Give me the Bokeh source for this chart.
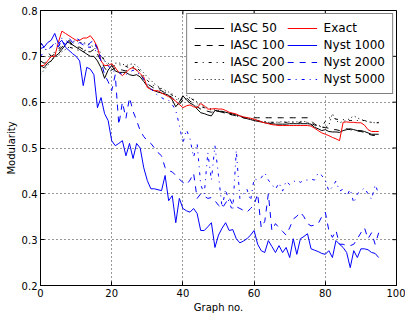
from bokeh.plotting import figure
from bokeh.models import Legend, LegendItem, Range1d, FixedTicker
from bokeh.embed import file_html
from bokeh.resources import INLINE

graph_no = list(range(96))

exact = [0.68,0.68,0.69,0.70,0.70,0.73,0.755,0.75,0.745,0.74,
         0.735,0.735,0.74,0.74,0.745,0.735,0.72,0.69,0.68,0.68,
         0.684,0.675,0.665,0.658,0.665,0.672,0.676,0.67,0.662,0.655,
         0.632,0.628,0.625,0.625,0.62,0.616,0.612,0.608,0.602,0.595,
         0.588,0.592,0.594,0.59,0.588,0.597,0.592,0.585,0.585,0.586,
         0.585,0.585,0.582,0.578,0.576,0.574,0.57,0.568,0.566,0.565,
         0.563,0.56,0.557,0.555,0.553,0.551,0.55,0.549,0.549,0.549,
         0.549,0.549,0.549,0.549,0.549,0.549,0.548,0.543,0.538,0.533,
         0.53,0.527,0.523,0.52,0.516,0.556,0.557,0.556,0.556,0.555,
         0.555,0.55,0.54,0.536,0.536,0.536]

iasc_50 = [0.68,0.675,0.685,0.69,0.70,0.705,0.715,0.725,0.735,0.725,
           0.72,0.715,0.71,0.705,0.70,0.70,0.69,0.675,0.652,0.67,
           0.68,0.668,0.665,0.665,0.665,0.66,0.658,0.66,0.655,0.645,
           0.635,0.628,0.625,0.622,0.62,0.618,0.615,0.605,0.59,0.6,
           0.614,0.605,0.598,0.594,0.585,0.577,0.575,0.572,0.57,0.582,
           0.58,0.58,0.578,0.576,0.575,0.572,0.57,0.566,0.564,0.562,
           0.56,0.558,0.557,0.555,0.554,0.553,0.552,0.552,0.552,0.552,
           0.553,0.553,0.553,0.553,0.553,0.553,0.552,0.545,0.542,0.538,
           0.54,0.536,0.535,0.535,0.534,0.538,0.54,0.542,0.54,0.538,
           0.538,0.536,0.533,0.53,0.53,0.53]

iasc_100 = [0.69,0.685,0.69,0.70,0.705,0.71,0.72,0.73,0.73,0.725,
            0.72,0.72,0.715,0.71,0.71,0.715,0.705,0.69,0.675,0.665,
            0.67,0.675,0.672,0.67,0.668,0.672,0.675,0.67,0.662,0.65,
            0.64,0.635,0.63,0.628,0.625,0.62,0.615,0.61,0.6,0.595,
            0.605,0.61,0.602,0.598,0.59,0.585,0.582,0.58,0.578,0.58,
            0.58,0.578,0.576,0.574,0.572,0.57,0.568,0.567,0.566,0.566,
            0.566,0.566,0.566,0.566,0.566,0.566,0.566,0.566,0.566,0.566,
            0.566,0.566,0.566,0.566,0.566,0.566,0.56,0.552,0.548,0.545,
            0.545,0.543,0.54,0.54,0.538,0.54,0.542,0.54,0.538,0.537,
            0.536,0.534,0.531,0.528,0.527,0.527]

iasc_200 = [0.73,0.72,0.71,0.70,0.71,0.715,0.725,0.72,0.72,0.718,
            0.715,0.712,0.71,0.715,0.72,0.725,0.72,0.705,0.69,0.68,
            0.678,0.68,0.682,0.68,0.678,0.675,0.678,0.675,0.668,0.658,
            0.648,0.64,0.635,0.632,0.628,0.622,0.62,0.615,0.608,0.6,
            0.61,0.615,0.61,0.604,0.597,0.59,0.588,0.585,0.583,0.582,
            0.58,0.578,0.576,0.574,0.572,0.57,0.568,0.566,0.565,0.564,
            0.562,0.56,0.559,0.558,0.557,0.556,0.556,0.556,0.556,0.556,
            0.556,0.556,0.556,0.556,0.557,0.556,0.554,0.55,0.548,0.546,
            0.558,0.566,0.565,0.563,0.562,0.562,0.561,0.56,0.56,0.56,
            0.56,0.56,0.558,0.556,0.555,0.555]

iasc_500 = [0.66,0.67,0.68,0.69,0.70,0.70,0.71,0.715,0.72,0.73,
            0.735,0.73,0.73,0.728,0.725,0.72,0.71,0.70,0.69,0.685,
            0.682,0.685,0.686,0.683,0.68,0.682,0.684,0.68,0.672,0.664,
            0.655,0.648,0.64,0.635,0.63,0.626,0.622,0.618,0.612,0.606,
            0.604,0.608,0.61,0.606,0.6,0.594,0.59,0.588,0.585,0.583,
            0.582,0.58,0.578,0.576,0.574,0.572,0.57,0.568,0.566,0.564,
            0.562,0.56,0.558,0.557,0.556,0.556,0.556,0.557,0.557,0.557,
            0.557,0.557,0.557,0.558,0.558,0.556,0.55,0.548,0.55,0.546,
            0.545,0.55,0.575,0.56,0.555,0.558,0.56,0.565,0.57,0.566,
            0.562,0.56,0.557,0.556,0.555,0.556]

nyst_1000 = [0.717,0.72,0.73,0.735,0.75,0.728,0.735,0.72,0.713,0.706,
             0.70,0.69,0.636,0.676,0.672,0.66,0.588,0.61,0.575,0.56,
             0.516,0.505,0.51,0.516,0.483,0.51,0.477,0.51,0.50,0.457,
             0.429,0.411,0.411,0.409,0.407,0.44,0.385,0.396,0.337,0.39,
             0.368,0.363,0.36,0.368,0.357,0.32,0.32,0.328,0.337,0.283,
             0.31,0.325,0.337,0.32,0.322,0.302,0.293,0.297,0.302,0.31,
             0.32,0.29,0.276,0.272,0.298,0.285,0.272,0.287,0.272,0.283,
             0.261,0.302,0.268,0.302,0.307,0.313,0.28,0.277,0.274,0.27,
             0.268,0.276,0.261,0.298,0.29,0.283,0.272,0.239,0.276,0.261,
             0.28,0.28,0.278,0.272,0.27,0.261]

nyst_2000 = [0.73,0.72,0.715,0.72,0.73,0.72,0.735,0.725,0.74,0.73,
             0.725,0.73,0.725,0.72,0.73,0.735,0.715,0.69,0.66,0.645,
             0.625,0.66,0.55,0.60,0.565,0.61,0.58,0.56,0.538,0.525,
             0.516,0.51,0.50,0.49,0.483,0.457,0.45,0.448,0.44,0.432,
             0.425,0.42,0.43,0.445,0.39,0.40,0.395,0.39,0.392,0.385,
             0.375,0.368,0.38,0.392,0.376,0.372,0.368,0.364,0.36,0.368,
             0.376,0.40,0.326,0.34,0.40,0.32,0.335,0.326,0.318,0.31,
             0.326,0.345,0.351,0.36,0.35,0.335,0.33,0.332,0.335,0.35,
             0.36,0.32,0.305,0.32,0.29,0.29,0.287,0.287,0.29,0.302,
             0.315,0.326,0.302,0.315,0.29,0.315]

nyst_5000 = [0.70,0.71,0.72,0.72,0.73,0.72,0.74,0.735,0.73,0.73,
             0.74,0.735,0.73,0.72,0.72,0.715,0.71,0.70,0.69,0.68,
             0.67,0.665,0.665,0.66,0.66,0.665,0.67,0.665,0.66,0.65,
             0.64,0.63,0.62,0.615,0.61,0.605,0.604,0.595,0.582,0.55,
             0.51,0.54,0.52,0.48,0.51,0.42,0.40,0.49,0.43,0.505,
             0.44,0.37,0.41,0.38,0.363,0.495,0.39,0.40,0.41,0.385,
             0.433,0.43,0.435,0.446,0.43,0.42,0.41,0.424,0.406,0.428,
             0.42,0.426,0.43,0.425,0.43,0.43,0.432,0.43,0.446,0.44,
             0.43,0.406,0.415,0.428,0.406,0.41,0.395,0.41,0.38,0.40,
             0.406,0.413,0.40,0.388,0.42,0.40]

x_ticks = [0, 20, 40, 60, 80, 100]
y_ticks = [0.2, 0.3, 0.4, 0.5, 0.6, 0.7, 0.8]
X0, X1 = 0, 100
Y0, Y1 = 0.2, 0.8

FONT = "DejaVu Sans"

p = figure(width=405, height=315, output_backend="svg", toolbar_location=None,
           x_range=Range1d(X0, X1), y_range=Range1d(Y0, Y1),
           min_border_left=40, min_border_right=9, min_border_top=10, min_border_bottom=30)
p.background_fill_color = "white"
p.border_fill_color = "white"
p.outline_line_color = "black"
p.outline_line_width = 1

series = [
    ("IASC 50", iasc_50, "black", "solid"),
    ("IASC 100", iasc_100, "black", "6 6"),
    ("IASC 200", iasc_200, "black", "3 5 1 5"),
    ("IASC 500", iasc_500, "black", "1 3"),
    ("Exact", exact, "#ff0000", "solid"),
    ("Nyst 1000", nyst_1000, "#0000ff", "solid"),
    ("Nyst 2000", nyst_2000, "#0000ff", "6 6"),
    ("Nyst 5000", nyst_5000, "#0000ff", "3 5 1 5"),
]

renderers = {}
for name, ys, col, dash in series:
    r = p.line(graph_no, ys, line_color=col, line_dash=dash, line_width=1)
    renderers[name] = r

for ax in (p.xaxis[0], p.yaxis[0]):
    ax.major_tick_in = 4
    ax.major_tick_out = 0
    ax.minor_tick_in = 0
    ax.minor_tick_out = 0
    ax.axis_line_color = "black"
    ax.major_label_text_font = FONT
    ax.major_label_text_font_size = "10px"
    ax.major_label_text_color = "black"
    ax.axis_label_text_font = FONT
    ax.axis_label_text_font_size = "10px"
    ax.axis_label_text_font_style = "normal"
    ax.axis_label_text_color = "black"
    ax.major_label_standoff = 3
    ax.axis_label_standoff = 2

p.xaxis[0].ticker = FixedTicker(ticks=x_ticks)
p.yaxis[0].ticker = FixedTicker(ticks=y_ticks)
p.xaxis[0].axis_label = "Graph no."
p.yaxis[0].axis_label = "Modularity"

# inward tick marks on the top and right edges (matplotlib style box)
tick_dy = (Y1 - Y0) * 4 / 275.0
tick_dx = (X1 - X0) * 4 / 356.0
p.segment(x0=x_ticks, y0=[Y1] * len(x_ticks), x1=x_ticks, y1=[Y1 - tick_dy] * len(x_ticks),
          line_color="black", line_width=1)
p.segment(x0=[X1] * len(y_ticks), y0=y_ticks, x1=[X1 - tick_dx] * len(y_ticks), y1=y_ticks,
          line_color="black", line_width=1)

p.xgrid.ticker = FixedTicker(ticks=x_ticks)
p.ygrid.ticker = FixedTicker(ticks=y_ticks)
for g in (p.xgrid[0], p.ygrid[0]):
    g.grid_line_color = "black"
    g.grid_line_dash = "1 3"
    g.grid_line_alpha = 0.8

items = [LegendItem(label=name, renderers=[renderers[name]]) for name, *_ in series]
legend = Legend(items=items, ncols=2, location="top_right")
legend.label_text_font = FONT
legend.label_text_font_size = "12px"
legend.label_text_color = "black"
legend.border_line_color = "black"
legend.border_line_width = 1
legend.background_fill_alpha = 1
legend.glyph_width = 30
legend.glyph_height = 14
legend.label_height = 14
legend.spacing = 3
legend.padding = 7
legend.margin = 3
legend.label_standoff = 6
p.add_layout(legend, "center")

open("out.html", "w").write(file_html(p, INLINE))
